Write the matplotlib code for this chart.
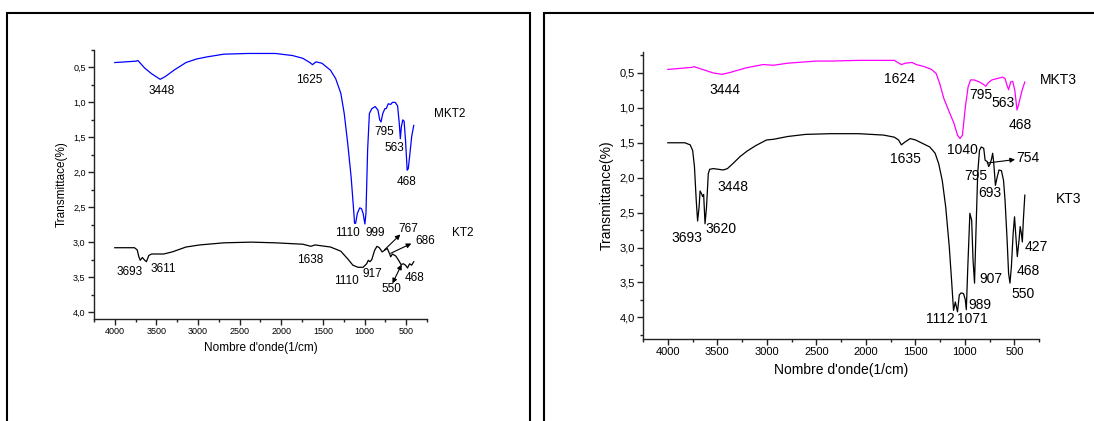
import matplotlib
matplotlib.use("Agg")
import matplotlib.pyplot as plt
from matplotlib.patches import Rectangle
from matplotlib.ticker import MultipleLocator, FuncFormatter

plt.rcParams['font.family'] = ['Liberation Sans', 'DejaVu Sans']

# ---- left panel: MKT2 / KT2 ----
mkt2_w = [4000, 3744, 3723, 3640, 3558, 3455, 3393, 3290, 3145, 3021, 2897, 2690, 2401, 2070,
          1864, 1740, 1657, 1625, 1583, 1512, 1409, 1347, 1285, 1244, 1202, 1161, 1128, 1120,
          1107, 1087, 1058, 1037, 1017, 996, 983, 963, 942, 913, 872, 839, 818, 802, 781, 756,
          740, 715, 686, 665, 632, 603, 583, 570, 558, 541, 525, 508, 488, 475, 459, 434, 409]
mkt2_t = [0.43, 0.41, 0.40, 0.51, 0.59, 0.67, 0.63, 0.54, 0.43, 0.38, 0.35, 0.31, 0.30, 0.30,
          0.33, 0.37, 0.43, 0.46, 0.42, 0.44, 0.54, 0.66, 0.87, 1.16, 1.59, 2.07, 2.59, 2.73,
          2.73, 2.59, 2.51, 2.52, 2.59, 2.74, 2.59, 1.68, 1.16, 1.09, 1.06, 1.11, 1.25, 1.28,
          1.16, 1.09, 1.09, 1.02, 1.03, 1.00, 1.00, 1.05, 1.30, 1.52, 1.35, 1.25, 1.27, 1.54,
          1.97, 1.95, 1.78, 1.49, 1.33]

kt2_w = [4000, 3764, 3731, 3711, 3694, 3669, 3640, 3620, 3591, 3558, 3413, 3310, 3145, 2979,
         2690, 2360, 2070, 1740, 1645, 1595, 1409, 1285, 1202, 1140, 1079, 1017, 975, 955,
         934, 913, 880, 851, 822, 789, 764, 727, 698, 686, 665, 624, 591, 562, 533, 508,
         484, 459, 434, 409]
kt2_t = [3.08, 3.08, 3.11, 3.21, 3.26, 3.22, 3.26, 3.28, 3.19, 3.17, 3.17, 3.14, 3.07, 3.04,
         3.01, 3.00, 3.01, 3.03, 3.06, 3.04, 3.07, 3.13, 3.24, 3.33, 3.36, 3.36, 3.31, 3.26,
         3.28, 3.25, 3.12, 3.06, 3.08, 3.14, 3.12, 3.09, 3.17, 3.21, 3.17, 3.20, 3.26, 3.32,
         3.31, 3.33, 3.37, 3.31, 3.33, 3.28]

left_labels = [("3448", 3442, 0.84), ("1625", 1669, 0.68), ("795", 769, 1.42),
               ("563", 645, 1.66), ("468", 492, 2.14), ("1110", 1202, 2.87),
               ("999", 872, 2.87), ("3693", 3818, 3.43), ("3611", 3417, 3.38),
               ("1638", 1649, 3.26), ("1110", 1223, 3.56), ("917", 901, 3.46),
               ("550", 682, 3.67), ("468", 397, 3.51), ("767", 479, 2.81),
               ("686", 265, 2.98), ("MKT2", -25, 1.16), ("KT2", -178, 2.87)]
# (from_w, from_t, to_w, to_t, style)
left_arrows = [(760, 3.11, 570, 2.89, '-|>'), (686, 3.16, 438, 3.02, '-|>'),
               (554, 3.32, 665, 3.59, '<|-|>')]

# ---- right panel: MKT3 / KT3 ----
mkt3_w = [4000, 3756, 3735, 3649, 3541, 3451, 3362, 3218, 3039, 2932, 2788, 2501, 2358, 2071,
          1712, 1677, 1641, 1598, 1533, 1490, 1408, 1336, 1289, 1254, 1211, 1157, 1110, 1074,
          1049, 1024, 995, 967, 942, 906, 852, 816, 788, 763, 727, 673, 619, 594, 573, 558,
          537, 516, 495, 473, 458, 422, 394]
mkt3_t = [0.45, 0.42, 0.41, 0.45, 0.50, 0.52, 0.49, 0.43, 0.38, 0.39, 0.36, 0.33, 0.33, 0.32,
          0.32, 0.35, 0.38, 0.36, 0.35, 0.38, 0.41, 0.45, 0.51, 0.65, 0.87, 1.06, 1.22, 1.39,
          1.44, 1.39, 0.99, 0.70, 0.60, 0.60, 0.63, 0.66, 0.69, 0.64, 0.60, 0.58, 0.56, 0.58,
          0.68, 0.74, 0.63, 0.62, 0.75, 1.03, 0.96, 0.75, 0.63]

kt3_w = [4000, 3828, 3774, 3749, 3731, 3713, 3699, 3684, 3674, 3659, 3649, 3638, 3624, 3609,
         3591, 3577, 3541, 3487, 3441, 3398, 3344, 3272, 3200, 3111, 3003, 2932, 2788, 2609,
         2358, 2071, 1820, 1712, 1669, 1641, 1605, 1551, 1497, 1426, 1354, 1300, 1264, 1228,
         1193, 1157, 1132, 1114, 1096, 1074, 1056, 1038, 1013, 995, 985, 970, 949, 931, 917,
         902, 888, 870, 852, 834, 809, 795, 773, 759, 744, 730, 719, 709, 691, 673, 655, 630,
         609, 594, 573, 558, 544, 530, 512, 498, 484, 470, 452, 441, 430, 419, 409, 394]
kt3_t = [1.50, 1.50, 1.53, 1.61, 1.84, 2.32, 2.62, 2.42, 2.19, 2.23, 2.27, 2.24, 2.66, 2.42,
         1.94, 1.88, 1.87, 1.88, 1.89, 1.87, 1.80, 1.70, 1.62, 1.54, 1.46, 1.45, 1.41, 1.38,
         1.37, 1.37, 1.39, 1.42, 1.46, 1.53, 1.49, 1.44, 1.46, 1.51, 1.56, 1.65, 1.80, 2.04,
         2.42, 2.99, 3.51, 3.90, 3.78, 3.92, 3.68, 3.65, 3.66, 3.75, 3.89, 3.28, 2.51, 2.61,
         3.18, 3.51, 2.80, 1.94, 1.61, 1.56, 1.58, 1.75, 1.77, 1.84, 1.80, 1.73, 1.65, 1.77,
         2.11, 1.99, 1.89, 1.90, 2.04, 2.32, 2.89, 3.37, 3.51, 3.28, 2.80, 2.56, 2.85, 3.13,
         2.89, 2.70, 2.79, 2.92, 2.61, 2.25]

right_labels = [("3444", 3423, 0.74), ("1624", 1655, 0.59), ("795", 838, 0.81),
                ("563", 615, 0.93), ("468", 440, 1.24), ("1040", 1020, 1.60),
                ("754", 368, 1.72), ("1635", 1601, 1.73), ("795", 891, 1.98),
                ("693", 744, 2.22), ("3448", 3340, 2.13), ("3693", 3810, 2.86),
                ("3620", 3462, 2.74), ("427", 282, 2.99), ("468", 361, 3.34),
                ("907", 737, 3.45), ("550", 414, 3.66), ("989", 845, 3.82),
                ("1112", 1246, 4.02), ("1071", 923, 4.02), ("MKT3", 60, 0.60),
                ("KT3", -48, 2.31)]
right_arrows = [(773, 1.79, 493, 1.74, '-|>')]


def comma(v, pos):
    return f'{v:.1f}'.replace('.', ',')


def style_axes(ax, ylim, tick_fs, lab_fs, ylabel):
    ax.set_xlim(4250, 250)
    ax.set_ylim(*ylim)
    for s in ['top', 'right']:
        ax.spines[s].set_visible(False)
    for s in ['left', 'bottom']:
        ax.spines[s].set_color('#222222')
        ax.spines[s].set_linewidth(1.0)
    ax.xaxis.set_major_locator(MultipleLocator(500))
    ax.xaxis.set_minor_locator(MultipleLocator(250))
    ax.yaxis.set_major_locator(MultipleLocator(0.5))
    ax.yaxis.set_minor_locator(MultipleLocator(0.25))
    ax.yaxis.set_major_formatter(FuncFormatter(comma))
    ax.tick_params(which='major', direction='out', length=4, width=1, labelsize=tick_fs,
                   color='#222222', pad=2)
    ax.tick_params(which='minor', direction='out', length=2.5, width=1, color='#222222')
    ax.set_xlabel("Nombre d'onde(1/cm)", fontsize=lab_fs, labelpad=4)
    ax.set_ylabel(ylabel, fontsize=lab_fs, labelpad=4)


fig = plt.figure(figsize=(10.94, 4.21), dpi=100)

# page frames
fig.patches.append(Rectangle((7 / 1094, -0.1), (530 - 7) / 1094, 1.1 - 13 / 421,
                             transform=fig.transFigure, fill=False, lw=1.5, ec='black'))
fig.patches.append(Rectangle((544 / 1094, -0.1), 0.6, 1.1 - 13 / 421,
                             transform=fig.transFigure, fill=False, lw=1.5, ec='black'))

ax1 = fig.add_axes([0.0859, 0.2423, 0.3044, 0.639])
ax1.plot(mkt2_w, mkt2_t, color='#0000ff', lw=0.9)
ax1.plot(kt2_w, kt2_t, color='black', lw=0.9)
style_axes(ax1, (4.1, 0.25), 6.5, 8.5, "Transmittace(%)")
for txt, w, t in left_labels:
    ax1.text(w, t, txt, fontsize=8.5, ha='center', va='center', clip_on=False)
for w0, t0, w1, t1, st in left_arrows:
    ax1.annotate('', xy=(w1, t1), xytext=(w0, t0), annotation_clip=False,
                 arrowprops=dict(arrowstyle=st, color='black', lw=0.8, mutation_scale=7,
                                 shrinkA=0, shrinkB=0))

ax2 = fig.add_axes([0.5878, 0.1948, 0.3620, 0.6817])
ax2.plot(mkt3_w, mkt3_t, color='#ff00ff', lw=0.9)
ax2.plot(kt3_w, kt3_t, color='black', lw=0.9)
style_axes(ax2, (4.31, 0.2), 8, 10, "Transmittance(%)")
for txt, w, t in right_labels:
    ax2.text(w, t, txt, fontsize=10, ha='center', va='center', clip_on=False)
for w0, t0, w1, t1, st in right_arrows:
    ax2.annotate('', xy=(w1, t1), xytext=(w0, t0), annotation_clip=False,
                 arrowprops=dict(arrowstyle=st, color='black', lw=0.8, mutation_scale=7,
                                 shrinkA=0, shrinkB=0))

fig.savefig('out.png', dpi=100)
